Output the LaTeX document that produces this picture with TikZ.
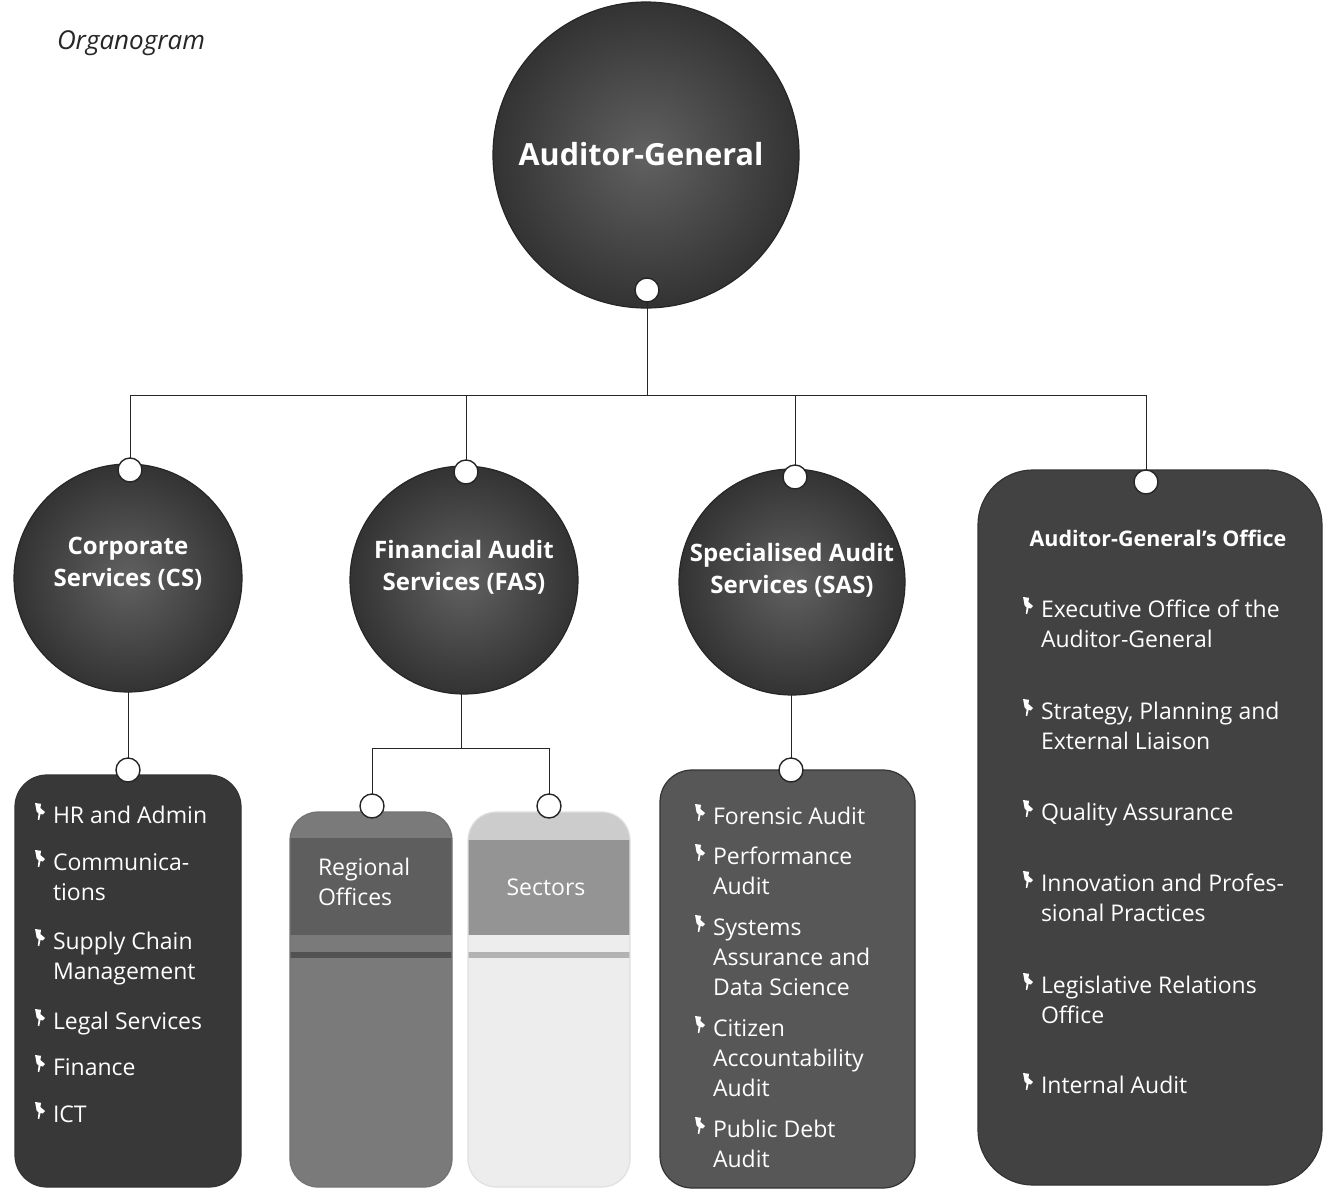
\documentclass[tikz,border=0pt]{standalone}
\usepackage{fontspec}
\setmainfont{Open Sans}
\begin{document}
\begin{tikzpicture}[x=1pt,y=-1pt,
  every node/.style={inner sep=0pt, outer sep=0pt},
  ball/.style={circle, draw=black!85, line width=1.2pt, shading=radial, inner color=black!62, outer color=black!80},
  balltext/.style={text=white, font=\bfseries\fontsize{24}{32}\selectfont, align=center},
  hook/.style={circle, draw=black!85, line width=1.4pt, fill=white, minimum size=24pt},
  card/.style={draw=black!80, line width=1.2pt, rounded corners=32pt, anchor=north west},
  itm/.style={text=white, font=\fontsize{23}{30}\selectfont, anchor=base west},
  wire/.style={draw=black!85, line width=1pt},
  pinpic/.pic={\fill[white, sharp corners] (0,0) -- (6,0.8) -- (5.4,5) -- (10,9) -- (7.8,11.5) -- (5.6,10.8) -- (4.2,17) -- (2.8,16.8) -- (3.6,10.4) -- (1.6,8.6) -- (1,4.8) -- cycle;}]
\newcommand\pinitem[3]{\pic at ([shift={(0,-20)}]#2) {pinpic}; \node[itm] (#1) at ([shift={(18,0)}]#2) {\parbox[t]{330pt}{\raggedright #3}};}
\useasboundingbox[fill=white] (0,0) rectangle (1331,1189);

% title
\node[anchor=base west, font=\itshape\fontsize{26}{30}\selectfont, text=black!85] (title) at (57,49) {Organogram};

% circles
\node[ball, minimum size=306pt] (ag) at (646,155) {};
\node[text=white, font=\bfseries\fontsize{30.5}{38}\selectfont, anchor=base] (agt) at (641,165) {Auditor-General};
\node[ball, minimum size=228pt] (cs) at (128,578) {};
\node[balltext] (cst) at (128,564) {Corporate\\Services (CS)};
\node[ball, minimum size=228pt] (fas) at (464,580) {};
\node[balltext] (fast) at (464,567) {Financial Audit\\Services (FAS)};
\node[ball, minimum size=226pt] (sas) at (792,582) {};
\node[balltext] (sast) at (792,570) {Specialised Audit\\Services (SAS)};

% boxes
\node[card, fill=black!78, minimum width=226pt, minimum height=412pt] (csbox) at (15,775) {};
\node[card, minimum width=162pt, minimum height=375pt, rounded corners=28pt, fill=black!52,
  path picture={
    \fill[black!63, sharp corners] ([yshift=-26pt]path picture bounding box.north west) rectangle ([yshift=-123pt]path picture bounding box.north east);
    \fill[black!68, sharp corners] ([yshift=-140pt]path picture bounding box.north west) rectangle ([yshift=-146pt]path picture bounding box.north east);},
  draw=black!55] (regbox) at (290,812) {};
\node[card, minimum width=162pt, minimum height=375pt, rounded corners=28pt, fill=black!7,
  path picture={
    \fill[black!20, sharp corners] (path picture bounding box.north west) rectangle ([yshift=-28pt]path picture bounding box.north east);
    \fill[black!42, sharp corners] ([yshift=-28pt]path picture bounding box.north west) rectangle ([yshift=-123pt]path picture bounding box.north east);
    \fill[black!30, sharp corners] ([yshift=-140pt]path picture bounding box.north west) rectangle ([yshift=-146pt]path picture bounding box.north east);},
  draw=black!12] (secbox) at (468,812) {};
\node[card, fill=black!66, minimum width=255pt, minimum height=418pt] (sasbox) at (660,770) {};
\node[card, fill=black!74, minimum width=344pt, minimum height=715pt, rounded corners=55pt] (aobox) at (978,470) {};

% hooks
\node[hook] (h0) at (647,290) {};
\node[hook] (hcs) at (130,470) {};
\node[hook] (hfas) at (466,472) {};
\node[hook] (hsas) at (795,477) {};
\node[hook] (hao) at (1146,482) {};
\node[hook] (hcs2) at (128,770) {};
\node[hook] (hreg) at (372,806) {};
\node[hook] (hsec) at (549,806) {};
\node[hook] (hsas2) at (791,770) {};

% wires
\coordinate (bus) at (647,395);
\coordinate (fbus) at (461,748);
\draw[wire] (h0) -- (bus);
\draw[wire] (hcs) -- (hcs |- bus) -- (hao |- bus) -- (hao);
\draw[wire] (hfas |- bus) -- (hfas);
\draw[wire] (hsas |- bus) -- (hsas);
\draw[wire] (cs.south -| hcs2) -- (hcs2);
\draw[wire] (fas.south -| fbus) -- (fbus);
\draw[wire] (hreg) -- (hreg |- fbus) -- (hsec |- fbus) -- (hsec);
\draw[wire] (sas.south -| hsas2) -- (hsas2);

% CS list
\pinitem{cs1}{35,823}{HR and Admin}
\pinitem{cs2}{35,870}{Communica-\\tions}
\pinitem{cs3}{35,949}{Supply Chain\\Management}
\pinitem{cs4}{35,1029}{Legal Services}
\pinitem{cs5}{35,1075}{Finance}
\pinitem{cs6}{35,1122}{ICT}

% FAS boxes
\node[text=white, font=\fontsize{23}{30}\selectfont, align=left, anchor=north west] (regt) at (318,858) {Regional\\Offices};
\node[text=white, font=\fontsize{23}{30}\selectfont, anchor=base] (sect) at (546,895) {Sectors};

% SAS list
\pinitem{sa1}{695,824}{Forensic Audit}
\pinitem{sa2}{695,864}{Performance\\Audit}
\pinitem{sa3}{695,935}{Systems\\Assurance and\\Data Science}
\pinitem{sa4}{695,1036}{Citizen\\Accountability\\Audit}
\pinitem{sa5}{695,1137}{Public Debt\\Audit}

% AG office
\node[text=white, font=\bfseries\fontsize{21.5}{26}\selectfont, anchor=base] (aot) at (1158,546) {Auditor-General’s Office};
\pinitem{ao1}{1023,617}{Executive Office of the\\Auditor-General}
\pinitem{ao2}{1023,719}{Strategy, Planning and\\External Liaison}
\pinitem{ao3}{1023,820}{Quality Assurance}
\pinitem{ao4}{1023,891}{Innovation and Profes-\\sional Practices}
\pinitem{ao5}{1023,993}{Legislative Relations\\Office}
\pinitem{ao6}{1023,1093}{Internal Audit}
\end{tikzpicture}
\end{document}
